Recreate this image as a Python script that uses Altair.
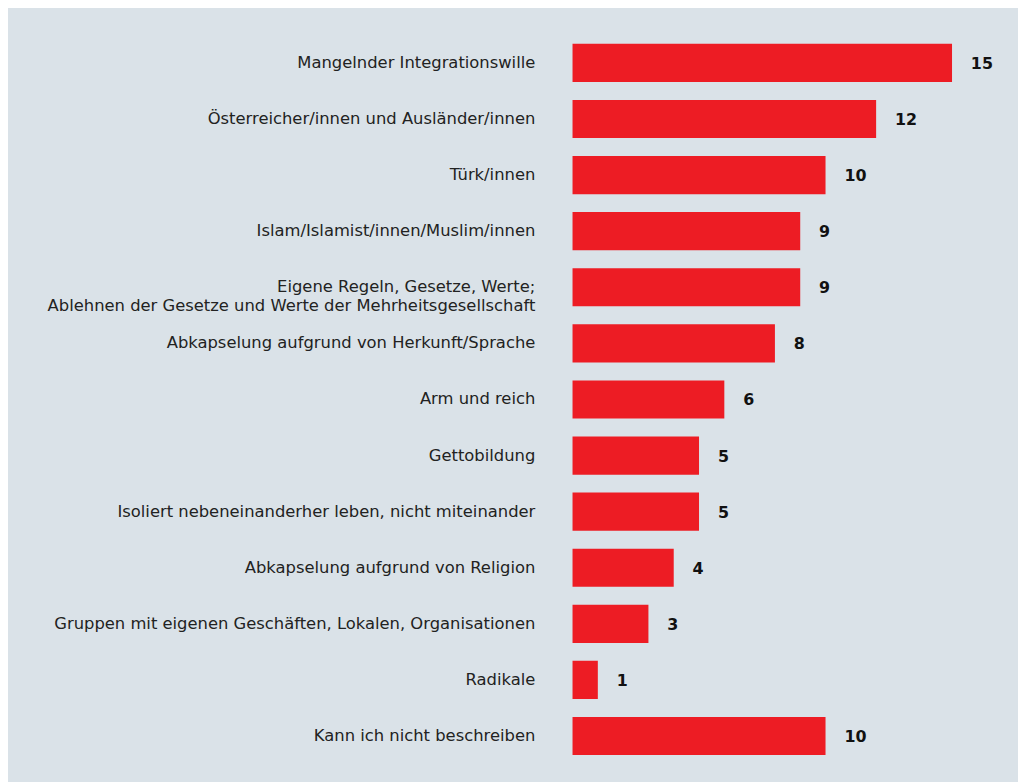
import altair as alt
import pandas as pd

categories = [
    "Mangelnder Integrationswille",
    "Österreicher/innen und Ausländer/innen",
    "Türk/innen",
    "Islam/Islamist/innen/Muslim/innen",
    "Eigene Regeln, Gesetze, Werte;|Ablehnen der Gesetze und Werte der Mehrheitsgesellschaft",
    "Abkapselung aufgrund von Herkunft/Sprache",
    "Arm und reich",
    "Gettobildung",
    "Isoliert nebeneinanderher leben, nicht miteinander",
    "Abkapselung aufgrund von Religion",
    "Gruppen mit eigenen Geschäften, Lokalen, Organisationen",
    "Radikale",
    "Kann ich nicht beschreiben",
]
values = [15, 12, 10, 9, 9, 8, 6, 5, 5, 4, 3, 1, 10]

df = pd.DataFrame({"cat": categories, "val": values})

BG = "#dae2e8"
RED = "#ed1c24"

y = alt.Y(
    "cat:N",
    sort=categories,
    title=None,
    scale=alt.Scale(paddingInner=0.32, paddingOuter=0.16),
    axis=alt.Axis(
        ticks=False,
        domain=False,
        labelPadding=38,
        labelFont="DejaVu Sans",
        labelFontSize=16.5,
        labelColor="#222222",
        labelLimit=700,
        labelLineHeight=19,
        labelExpr="split(datum.label, '|')",
    ),
)
x = alt.X("val:Q", scale=alt.Scale(domain=[0, 16]), axis=None, title=None)

bars = alt.Chart(df).mark_bar(color=RED).encode(x=x, y=y)
text = alt.Chart(df).mark_text(
    align="left", baseline="middle", dx=19, dy=1,
    font="DejaVu Sans", fontWeight="bold", fontSize=16, color="#111111",
).encode(x=x, y=y, text="val:Q")

chart = (
    (bars + text)
    .properties(
        width=408,
        height=735,
        background=BG,
        padding={"left": 569, "top": 24, "right": 41, "bottom": 15},
        autosize=alt.AutoSizeParams(type="none"),
    )
    .configure_view(stroke=None)
)

chart.save("out.html", embed_options={"renderer": "svg", "actions": False})
